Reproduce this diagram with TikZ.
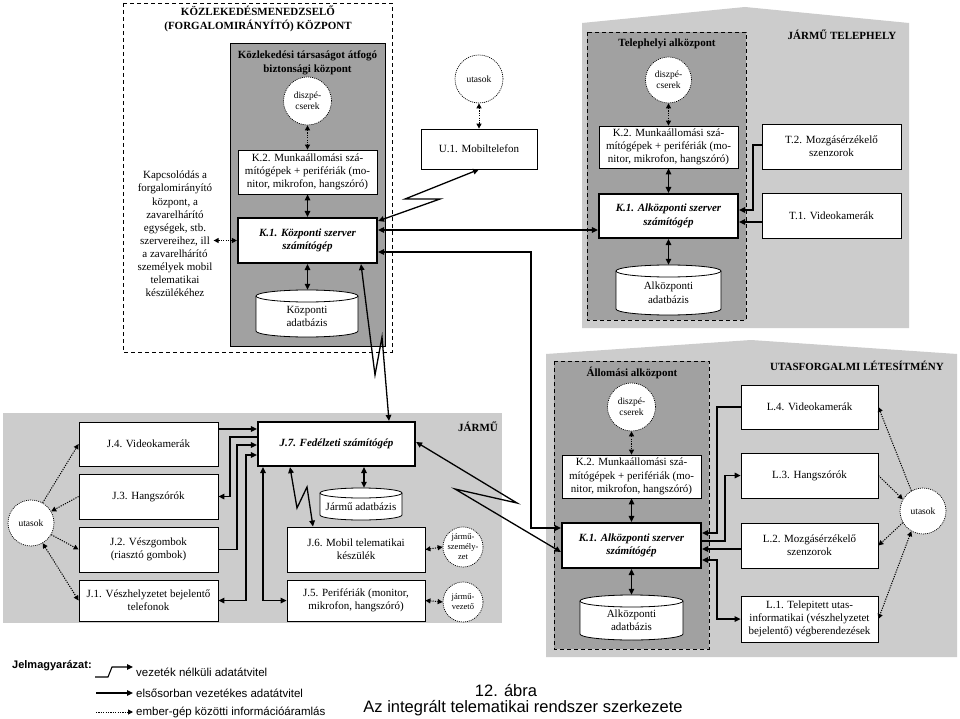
\documentclass[tikz,border=0pt]{standalone}
\usepackage{fontspec}
\setmainfont{Liberation Serif}
\newfontfamily\sansf{Liberation Sans}
\usetikzlibrary{arrows.meta}
\newcommand\boxat[7]{\node[#1, minimum width={(#5)-(#3)}, minimum height={(#6)-(#4)}] (#2) at ({((#3)+(#5))/2},{((#4)+(#6))/2}) {#7};}
\newcommand\mycyl[5]{%
  \draw[cylline] (#1,#3+#5) -- (#1,#4-#5) arc[start angle=180,end angle=360,x radius={((#2)-(#1))/2*1pt},y radius=#5pt] -- (#2,#3+#5) arc[start angle=0,end angle=180,x radius={((#2)-(#1))/2*1pt},y radius=#5pt] -- cycle;
  \draw[line width=0.8pt] (#1,#3+#5) arc[start angle=180,end angle=360,x radius={((#2)-(#1))/2*1pt},y radius=#5pt];}
\newcommand\cyltext[1]{\raisebox{-6.5pt}[0pt][0pt]{\begin{tabular}{@{}c@{}}#1\end{tabular}}}
\begin{document}
\begin{tikzpicture}[x=1pt,y=-1pt,
 box/.style={draw, fill=white, line width=0.8pt, align=center, inner sep=1pt, font=\fontsize{11}{13.3}\selectfont},
 kbox/.style={box, line width=2.2pt, font=\fontsize{11}{13.3}\selectfont\bfseries\itshape},
 cylnode/.style={inner sep=0pt, font=\fontsize{11}{13.3}\selectfont},
 cylline/.style={draw, fill=white, line width=0.8pt},
 circ/.style={circle, draw, dash pattern=on 1pt off 1pt, fill=white, line width=0.7pt, align=center, inner sep=0pt, font=\fontsize{9.5}{11}\selectfont},
 smallcirc/.style={circ, font=\fontsize{8.5}{10}\selectfont},
 wire/.style={line width=1.3pt, >={Triangle[length=6pt,width=5.5pt]}},
 hm/.style={line width=1pt, dash pattern=on 1.2pt off 1.2pt, >={Triangle[length=5pt,width=5pt]}},
 darkreg/.style={fill=black!37, draw=black, line width=0.8pt},
 dashreg/.style={fill=black!37, draw=black, line width=0.9pt, dash pattern=on 4pt off 3pt},
 lightreg/.style={fill=black!20},
 title/.style={align=center, font=\fontsize{11}{13.5}\selectfont\bfseries},
 legtext/.style={anchor=west, inner sep=0pt, font=\sansf\fontsize{11.5}{13}\selectfont},
 captext/.style={inner sep=0pt, font=\sansf\fontsize{16.5}{18}\selectfont},
]
\useasboundingbox (0,0) rectangle (960,719);
\fill[white] (0,0) rectangle (960,719);

% regions
\fill[lightreg] (582,23) -- (745,7) -- (909,23) -- (909,328) -- (582,328) -- cycle;
\fill[lightreg] (546,354) -- (751,340) -- (957,354) -- (957,657) -- (546,657) -- cycle;
\fill[lightreg] (3,413) rectangle (502,623);
\draw[line width=0.9pt, dash pattern=on 4pt off 3pt] (123,3) rectangle (392,352);
\draw[darkreg] (230,43) rectangle (385,346);
\draw[dashreg] (587,32) rectangle (746,320);
\draw[dashreg] (554,361) rectangle (709,649);

% titles
\node[title] (ttop) at (258,19) {KÖZLEKEDÉSMENEDZSELŐ\\(FORGALOMIRÁNYÍTÓ) KÖZPONT};
\node[title] (tbiz) at (307.5,63) {Közlekedési társaságot átfogó\\biztonsági központ};
\node[title] (ttel) at (667,44) {Telephelyi alközpont};
\node[title] (tjt) at (842,35) {JÁRMŰ TELEPHELY};
\node[title] (tall) at (632,373) {Állomási alközpont};
\node[title] (tutf) at (857,366) {UTASFORGALMI LÉTESÍTMÉNY};
\node[title] (tjar) at (478,427) {JÁRMŰ};

% top-left centre
\node[align=center, font=\fontsize{11}{13.1}\selectfont, inner sep=1pt] (kapcs) at (175,234) {Kapcsolódás a\\forgalomirányító\\központ, a\\zavarelhárító\\egységek, stb.\\szervereihez, ill\\a zavarelhárító\\személyek mobil\\telematikai\\készülékéhez};
\boxat{box}{K2a}{238}{150}{377}{194}{K.2. Munkaállomási szá-\\mítógépek + perifériák (mo-\\nitor, mikrofon, hangszóró)}
\boxat{kbox}{K1a}{238}{218}{377}{263}{K.1. Központi szerver\\számítógép}
\mycyl{256}{358}{290}{337}{6}
\boxat{cylnode}{db1}{256}{290}{358}{337}{\cyltext{Központi\\adatbázis}}
\node[circ, minimum size=48pt] (disp1) at (307.5,101) {diszpé-\\cserek};

% U.1
\boxat{box}{U1}{421}{129}{537}{169}{U.1. Mobiltelefon}
\node[circ, minimum size=48pt] (utU) at (479,79) {utasok};

% Telephely
\boxat{box}{K2b}{599}{126}{738}{168}{K.2. Munkaállomási szá-\\mítógépek + perifériák (mo-\\nitor, mikrofon, hangszóró)}
\boxat{kbox}{K1b}{599}{194}{738}{238}{K.1. Alközponti szerver\\számítógép}
\mycyl{616}{721}{265}{315}{6}
\boxat{cylnode}{db2}{616}{265}{721}{315}{\cyltext{Alközponti\\adatbázis}}
\node[circ, minimum size=46pt] (disp2) at (668.5,80) {diszpé-\\cserek};
\boxat{box}{T2}{762}{124}{901}{169}{T.2. Mozgásérzékelő\\szenzorok}
\boxat{box}{T1}{762}{193}{901}{238}{T.1. Videokamerák}

% Utasforgalmi
\boxat{box}{K2c}{562}{455}{701}{498}{K.2. Munkaállomási szá-\\mítógépek + perifériák (mo-\\nitor, mikrofon, hangszóró)}
\boxat{kbox}{K1c}{562}{523}{701}{568}{K.1. Alközponti szerver\\számítógép}
\mycyl{580}{683}{595}{640}{6}
\boxat{cylnode}{db3}{580}{595}{683}{640}{\cyltext{Alközponti\\adatbázis}}
\node[circ, minimum size=48pt] (disp3) at (631.5,407) {diszpé-\\cserek};
\boxat{box}{L4}{741}{385}{878}{429}{L.4. Videokamerák}
\boxat{box}{L3}{741}{453}{878}{498}{L.3. Hangszórók}
\boxat{box}{L2}{741}{523}{878}{568}{L.2. Mozgásérzékelő\\szenzorok}
\boxat{box}{L1}{741}{596}{878}{642}{L.1. Telepitett utas-\\informatikai (vészhelyzetet\\bejelentő) végberendezések}
\node[circ, minimum size=46pt] (utR) at (923,511) {utasok};

% Jármű
\boxat{box}{J4}{79}{422}{218}{466}{J.4. Videokamerák}
\boxat{box}{J3}{79}{474}{218}{519}{J.3. Hangszórók}
\boxat{box}{J2}{79}{527}{218}{572}{J.2. Vészgombok\\(riasztó gombok)}
\boxat{box}{J1}{79}{580}{218}{621}{J.1. Vészhelyzetet bejelentő\\telefonok}
\node[circ, minimum size=46pt] (utB) at (31,523) {utasok};
\boxat{kbox}{J7}{258}{422}{415}{466}{J.7. Fedélzeti számítógép}
\mycyl{320}{402}{488}{520}{5}
\boxat{cylnode}{db4}{320}{488}{402}{520}{\cyltext{Jármű adatbázis}}
\boxat{box}{J6}{287}{527}{425}{572}{J.6. Mobil telematikai\\készülék}
\boxat{box}{J5}{287}{580}{425}{621}{J.5. Perifériák (monitor,\\mikrofon, hangszóró)}
\node[smallcirc, minimum size=40pt] (szem) at (463,547) {jármű-\\személy-\\zet};
\node[smallcirc, minimum size=40pt] (vez) at (463,602) {jármű-\\vezető};

% connectors: top-left
\draw[hm,<->] (disp1.south) -- (disp1.south |- K2a.north);
\draw[wire,<->] (K2a.south) -- (K1a.north);
\draw[wire,<->] (K1a.south) -- (K1a.south |- db1.north);
\draw[hm,<->] (kapcs.east |- K1a.west) -- (K1a.west);
\draw[hm,<->] (utU.south) -- (utU.south |- U1.north);
\draw[wire,<->] (K1a.east |- 0,221) -- (440,199) -- (405,199) -- (U1.south);
\draw[wire,<->] (K1a.east |- 0,230) -- (K1b.west |- 0,230);
\draw[wire,<->] (K1a.east |- 0,252) -| (531,528) -- (K1c.west |- 0,528);
\draw[wire,<->] (K1a.south -| 361,0) -- (375,375) -- (382,337) -- (J7.north -| 389,0);
\draw[wire,<->] (J7.east |- 0,442) -- (517,503) -- (455,489) -- (K1c.west |- 0,552);

% telephely
\draw[hm,<->] (disp2.south) -- (disp2.south |- K2b.north);
\draw[wire,<->] (K2b.south) -- (K1b.north);
\draw[wire,<->] (K1b.south) -- (K1b.south |- db2.north);
\draw[wire,->] (T2.west |- 0,145) -| (753,210) -- (K1b.east |- 0,210);
\draw[wire,->] (T1.west |- 0,222) -- (K1b.east |- 0,222);

% utasforgalmi
\draw[hm,<->] (disp3.south) -- (disp3.south |- K2c.north);
\draw[wire,<->] (K2c.south) -- (K1c.north);
\draw[wire,<->] (K1c.south) -- (K1c.south |- db3.north);
\draw[wire,->] (L4.west) -| (717,533) -- (K1c.east |- 0,533);
\draw[wire,->] (K1c.east |- 0,541) -| (725,475.5) -- (L3.west);
\draw[wire,->] (L2.west |- 0,549) -- (K1c.east |- 0,549);
\draw[wire,<->] (K1c.east |- 0,560) -| (717,619) -- (L1.west);
\draw[hm,->] (utR.120) -- (L4.east);
\draw[hm,->] (L3.east) -- (utR.150);
\draw[hm,->] (utR.210) -- (L2.east);
\draw[hm,<->] (utR.240) -- (L1.east);

% jármű
\draw[wire,->] (J4.east |- 0,429) -- (J7.west |- 0,429);
\draw[wire,->] (J7.west |- 0,437) -| (230,496.5) -- (J3.east);
\draw[wire,->] (J2.east) -| (237,445) -- (J7.west |- 0,445);
\draw[wire,<->] (J1.east) -| (246,455) -- (J7.west |- 0,455);
\draw[wire,<->] (J7.south -| 263,0) |- (J5.west);
\draw[wire,<->] (J7.south -| 290,0) -- (297,508) -- (307,487) -- (J6.north -| 313,0);
\draw[wire,<->] (J7.south -| 364,0) -- (db4.north -| 364,0);
\draw[hm,<->] (J6.east) -- (szem.west);
\draw[hm,<->] (J5.east) -- (vez.west);
\draw[hm,->] (utB.60) -- (J4.west);
\draw[hm,->] (J3.west) -- (utB.30);
\draw[hm,->] (utB.-30) -- (J2.west);
\draw[hm,<->] (utB.-60) -- (J1.west);

% legend
\node[anchor=west, inner sep=0pt, font=\sansf\fontsize{11}{12}\selectfont\bfseries] (leg) at (12,666) {Jelmagyarázat:};
\node[legtext] (lt1) at (136,672) {vezeték nélküli adatátvitel};
\node[legtext] (lt2) at (136,693) {elsősorban vezetékes adatátvitel};
\node[legtext] (lt3) at (136,712) {ember-gép közötti információáramlás};
\coordinate (la) at (95,677);
\coordinate (lb) at (133,667);
\coordinate (lc) at (96,693);
\coordinate (ld) at (133,693);
\coordinate (le) at (96,712);
\coordinate (lf) at (133,712);
\draw[line width=1.1pt, >={Triangle[length=6pt,width=5.5pt]}, ->] (la) -- (108,677) -- (112,667) -- (lb);
\draw[wire,->] (lc) -- (ld);
\draw[hm,->] (le) -- (lf);
\node[captext] (cap1) at (506,690) {12. ábra};
\node[captext] (cap2) at (523,708) {Az integrált telematikai rendszer szerkezete};
\end{tikzpicture}
\end{document}
